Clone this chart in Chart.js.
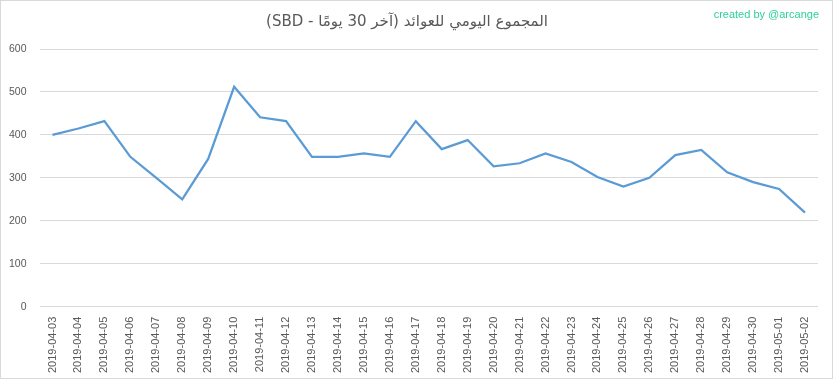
<!DOCTYPE html>
<html>
<head>
<meta charset="utf-8">
<script src="https://cdn.jsdelivr.net/npm/chart.js@4/dist/chart.umd.min.js"></script>
<style>
  body { margin: 0; background: #fff; }
  #wrap { width: 833px; height: 379px; }
</style>
</head>
<body>
<div id="wrap"><canvas id="myChart" width="833" height="379"></canvas></div>
<script>
const dias = ['2019-04-03','2019-04-04','2019-04-05','2019-04-06','2019-04-07','2019-04-08','2019-04-09','2019-04-10',
  '2019-04-11','2019-04-12','2019-04-13','2019-04-14','2019-04-15','2019-04-16','2019-04-17','2019-04-18',
  '2019-04-19','2019-04-20','2019-04-21','2019-04-22','2019-04-23','2019-04-24','2019-04-25','2019-04-26',
  '2019-04-27','2019-04-28','2019-04-29','2019-04-30','2019-05-01','2019-05-02'];
const valores = [400, 415, 432, 349, 300, 250, 344, 512, 441, 432, 349, 349, 357, 349, 432, 367,
  388, 327, 334, 357, 337, 302, 280, 300, 353, 365, 313, 290, 274, 219];
const yTicks = [0, 100, 200, 300, 400, 500, 600];
const titulo = 'المجموع اليومي للعوائد (آخر 30 يومًا - SBD)';
const credito = 'created by @arcange';

// moldura e texto do autor
const extras = {
  id: 'extras',
  afterDraw(chart) {
    const ctx = chart.ctx;
    ctx.save();
    ctx.strokeStyle = '#d9d9d9';
    ctx.lineWidth = 1;
    ctx.strokeRect(0.5, 0.5, chart.width - 1, chart.height - 1);
    ctx.font = '11px "Liberation Sans", sans-serif';
    ctx.fillStyle = '#2fcf9c';
    ctx.textAlign = 'right';
    ctx.textBaseline = 'middle';
    ctx.fillText(credito, chart.width - 14, 15);
    ctx.restore();
  }
};

const config = {
  type: 'line',
  data: {
    labels: dias,
    datasets: [{
      label: 'SBD',
      data: valores,
      borderColor: '#5b9bd5',
      borderWidth: 2.25,
      pointRadius: 0,
      tension: 0,
      fill: false
    }]
  },
  options: {
    responsive: false,
    animation: false,
    layout: { padding: { left: -4, right: 15, top: 6, bottom: 4 } },
    plugins: {
      legend: { display: false },
      tooltip: { enabled: false },
      title: {
        display: true,
        text: '\u202B' + titulo + '\u202C',
        color: '#595959',
        font: { family: '"DejaVu Sans", sans-serif', size: 15, weight: 'normal' },
        padding: { top: 7, bottom: 18 }
      }
    },
    scales: {
      x: {
        offset: true,
        grid: { display: false },
        border: { display: false },
        ticks: {
          color: '#595959',
          font: { family: '"Liberation Sans", sans-serif', size: 11 },
          minRotation: 90,
          maxRotation: 90,
          autoSkip: false,
          padding: 2
        }
      },
      y: {
        min: 0,
        max: 600,
        afterBuildTicks(axis) { axis.ticks = yTicks.map(v => ({ value: v })); },
        grid: { color: '#d9d9d9', drawTicks: false },
        border: { display: false },
        ticks: {
          color: '#595959',
          font: { family: '"Liberation Sans", sans-serif', size: 10.5 },
          padding: 13
        }
      }
    }
  },
  plugins: [extras]
};

new Chart(document.getElementById('myChart'), config);
</script>
</body>
</html>
